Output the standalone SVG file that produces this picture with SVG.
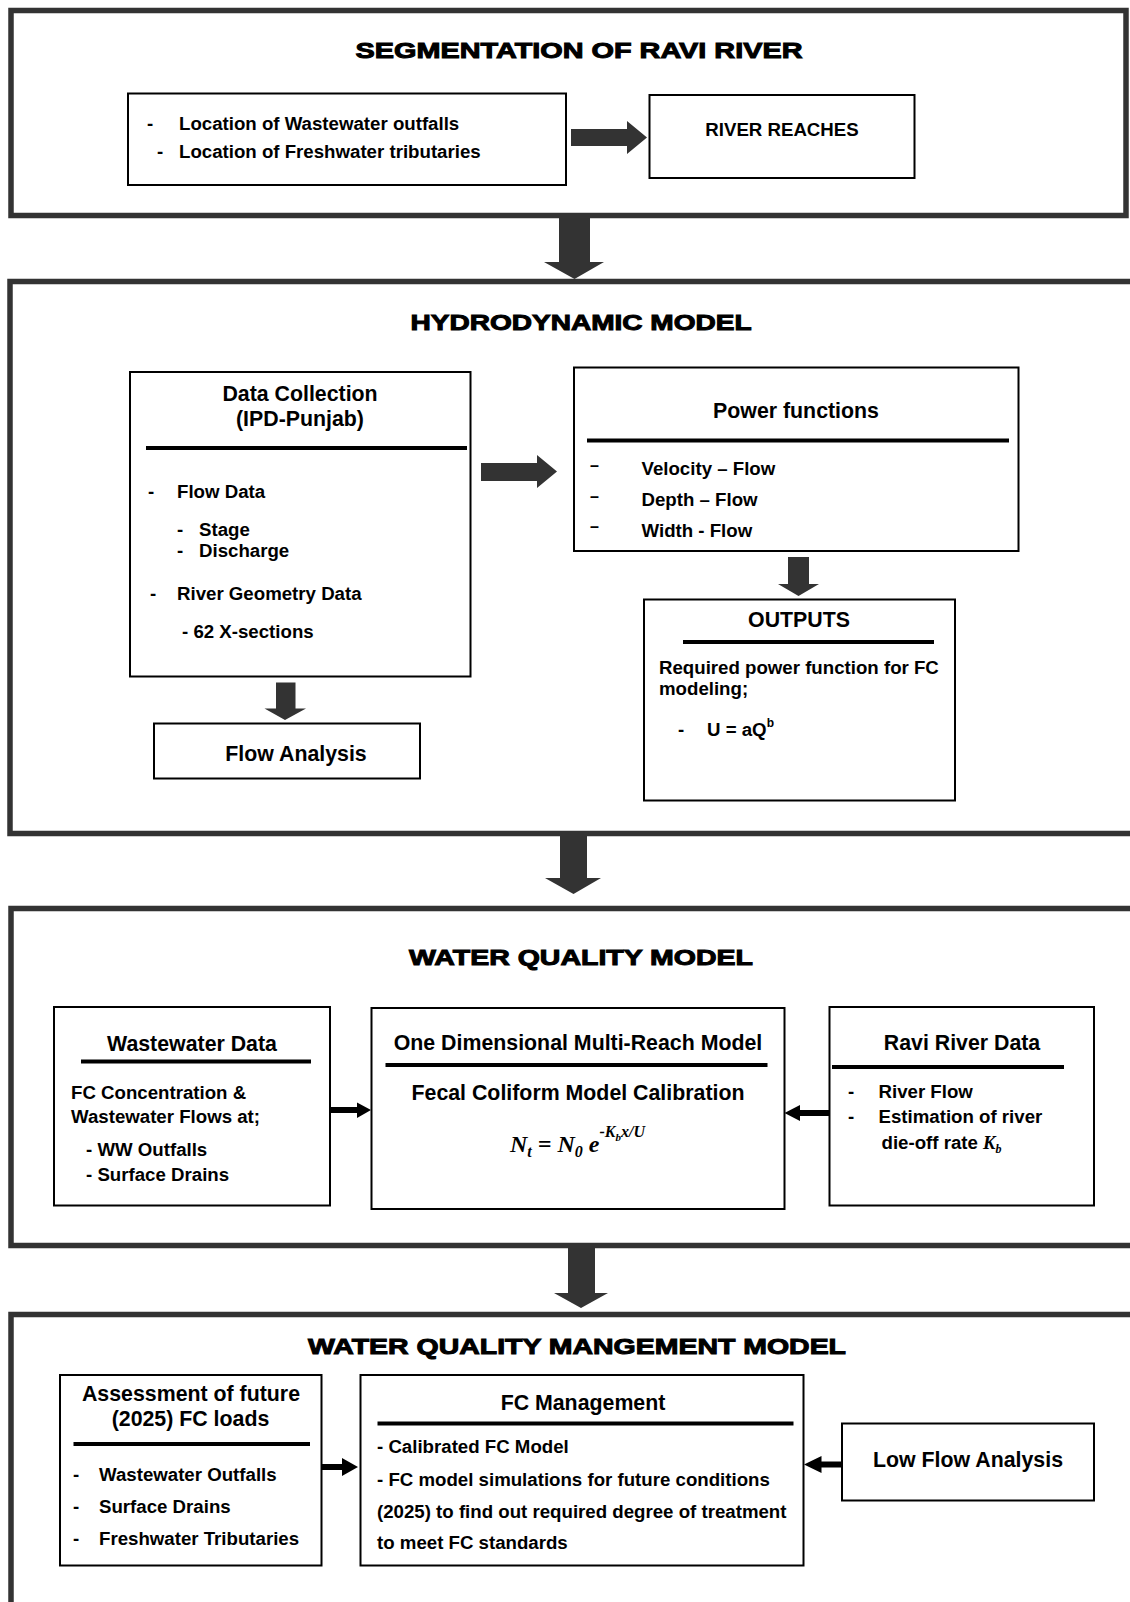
<svg xmlns="http://www.w3.org/2000/svg" width="1130" height="1602" viewBox="0 0 1130 1602">
<style>
.frame{fill:#fff;stroke:#333;stroke-width:5.5}
.box{fill:#fff;stroke:#000;stroke-width:2}
.rule{stroke:#000;stroke-width:4}
.ag{fill:#333}
.ak{fill:#000}
text{font-family:"Liberation Sans",Arial,sans-serif;font-weight:bold;font-size:18.67px;fill:#000}
.h{font-size:21.33px}
.c{text-anchor:middle}
.title{font-size:22.5px;stroke:#000;stroke-width:1}
.f{font-family:"Liberation Serif","Times New Roman",serif;font-style:italic;font-weight:bold}
.fm{font-size:24px}
.s16{font-size:16px}
.s12{font-size:12px}
.s11{font-size:11px}
.dash{font-size:16px}
</style>
<rect width="1130" height="1602" fill="#fff"/>

<g id="segmentation">
<rect class="frame" x="11" y="10.5" width="1115" height="205"/>
<text class="title c" x="579" y="58" textLength="447" lengthAdjust="spacingAndGlyphs">SEGMENTATION OF RAVI RIVER</text>
</g>
<g id="locations">
<rect class="box" x="128" y="93.5" width="438" height="91.5"/>
<text x="147" y="130">-</text>
<text x="179" y="130">Location of Wastewater outfalls</text>
<text x="157" y="158">-</text>
<text x="179" y="158">Location of Freshwater tributaries</text>
</g>
<g id="river-reaches">
<rect class="box" x="649.5" y="95" width="265" height="83"/>
<text class="c" x="782" y="136">RIVER REACHES</text>
</g>

<g id="hydrodynamic">
<rect class="frame" x="10" y="281.5" width="1125" height="552"/>
<text class="title c" x="581" y="330" textLength="341" lengthAdjust="spacingAndGlyphs">HYDRODYNAMIC MODEL</text>
</g>
<g id="data-collection">
<rect class="box" x="130" y="372" width="340.5" height="304.5"/>
<text class="h c" x="300" y="401">Data Collection</text>
<text class="h c" x="300" y="426">(IPD-Punjab)</text>
<line class="rule" x1="146" y1="448" x2="467" y2="448"/>
<text x="148" y="498">-</text>
<text x="177" y="498">Flow Data</text>
<text x="177" y="536">-</text>
<text x="199" y="536">Stage</text>
<text x="177" y="557">-</text>
<text x="199" y="557">Discharge</text>
<text x="150" y="600">-</text>
<text x="177" y="600">River Geometry Data</text>
<text x="182" y="638">- 62 X-sections</text>
</g>
<g id="power-functions">
<rect class="box" x="574" y="367.5" width="444.5" height="183.5"/>
<text class="h c" x="796" y="418">Power functions</text>
<line class="rule" x1="587" y1="440.5" x2="1009" y2="440.5"/>
<text class="dash" x="590" y="471">–</text>
<text x="641.5" y="475">Velocity – Flow</text>
<text class="dash" x="590" y="502">–</text>
<text x="641.5" y="506">Depth – Flow</text>
<text class="dash" x="590" y="532">–</text>
<text x="641.5" y="537">Width - Flow</text>
</g>
<g id="outputs">
<rect class="box" x="644" y="599.5" width="311" height="201"/>
<text class="h c" x="799" y="627">OUTPUTS</text>
<line class="rule" x1="683" y1="642" x2="934" y2="642"/>
<text x="659" y="673.5">Required power function for FC</text>
<text x="659" y="695">modeling;</text>
<text x="678" y="736">-</text>
<text x="707" y="736">U = aQ<tspan class="s12" dy="-9">b</tspan></text>
</g>
<g id="flow-analysis">
<rect class="box" x="154" y="723.5" width="266" height="55"/>
<text class="h c" x="296" y="761">Flow Analysis</text>
</g>

<g id="water-quality">
<rect class="frame" x="11" y="908.5" width="1125" height="337"/>
<text class="title c" x="581" y="965" textLength="344" lengthAdjust="spacingAndGlyphs">WATER QUALITY MODEL</text>
</g>
<g id="wastewater-data">
<rect class="box" x="54" y="1007" width="276" height="198.5"/>
<text class="h c" x="192" y="1051">Wastewater Data</text>
<line class="rule" x1="81" y1="1061.5" x2="311" y2="1061.5"/>
<text x="71" y="1098.5">FC Concentration &amp;</text>
<text x="71" y="1123">Wastewater Flows at;</text>
<text x="86" y="1156">- WW Outfalls</text>
<text x="86" y="1180.5">- Surface Drains</text>
</g>
<g id="multi-reach">
<rect class="box" x="371.5" y="1008" width="413" height="201"/>
<text class="h c" x="578" y="1050">One Dimensional Multi-Reach Model</text>
<line class="rule" x1="385.5" y1="1065" x2="767.5" y2="1065"/>
<text class="h c" x="578" y="1099.5">Fecal Coliform Model Calibration</text>
<text class="f fm" x="510" y="1152">N<tspan class="s16" dy="5">t</tspan><tspan class="fm" dy="-5"> = N</tspan><tspan class="s16" dy="5">0</tspan><tspan class="fm" dy="-5"> e</tspan><tspan class="s16" dy="-15">-K</tspan><tspan class="s11" dy="4">b</tspan><tspan class="s16" dy="-4">x/U</tspan></text>
</g>
<g id="ravi-data">
<rect class="box" x="829.5" y="1007" width="264.5" height="198.5"/>
<text class="h c" x="962" y="1050">Ravi River Data</text>
<line class="rule" x1="832" y1="1067" x2="1064" y2="1067"/>
<text x="848" y="1097.5">-</text>
<text x="878.5" y="1097.5">River Flow</text>
<text x="848" y="1123">-</text>
<text x="878.5" y="1123">Estimation of river</text>
<text x="881.5" y="1148.5">die-off rate <tspan class="f">K</tspan><tspan class="f s12" dy="4">b</tspan></text>
</g>

<g id="management">
<rect class="frame" x="11" y="1314.5" width="1125" height="300"/>
<text class="title c" x="577" y="1354" textLength="538" lengthAdjust="spacingAndGlyphs">WATER QUALITY MANGEMENT MODEL</text>
</g>
<g id="assessment">
<rect class="box" x="60" y="1375" width="261.5" height="190.5"/>
<text class="h c" x="191" y="1401">Assessment of future</text>
<text class="h c" x="190.5" y="1426">(2025) FC loads</text>
<line class="rule" x1="73.5" y1="1444" x2="310" y2="1444"/>
<text x="73" y="1481">-</text>
<text x="99" y="1481">Wastewater Outfalls</text>
<text x="73" y="1512.5">-</text>
<text x="99" y="1512.5">Surface Drains</text>
<text x="73" y="1545">-</text>
<text x="99" y="1545">Freshwater Tributaries</text>
</g>
<g id="fc-management">
<rect class="box" x="360.5" y="1375" width="443" height="190.5"/>
<text class="h c" x="583" y="1410">FC Management</text>
<line class="rule" x1="377.5" y1="1423.5" x2="793.5" y2="1423.5"/>
<text x="377" y="1453">- Calibrated FC Model</text>
<text x="377" y="1486">- FC model simulations for future conditions</text>
<text x="377" y="1517.5">(2025) to find out required degree of treatment</text>
<text x="377" y="1549">to meet FC standards</text>
</g>
<g id="low-flow">
<rect class="box" x="842" y="1423.5" width="252" height="77"/>
<text class="h c" x="968" y="1467">Low Flow Analysis</text>
</g>

<g id="connectors">
<polygon class="ag" points="571,129 627,129 627,121 647,137.5 627,154 627,146 571,146"/>
<polygon class="ag" points="559,217 590,217 590,262 604,262 574.5,279 544,262 559,262"/>
<polygon class="ag" points="481,463 537,463 537,455 557,471.5 537,488 537,481 481,481"/>
<polygon class="ag" points="788,557 809,557 809,584 819,584 798.5,596 778,584 788,584"/>
<polygon class="ag" points="276,682.5 295.5,682.5 295.5,708.5 306,708.5 285,720 264.5,708.5 276,708.5"/>
<polygon class="ag" points="560,836 587,836 587,878 601,878 573.5,894 545,878 560,878"/>
<polygon class="ak" points="331,1107 357,1107 357,1102.5 371,1110 357,1118 357,1113 331,1113"/>
<polygon class="ak" points="829,1110 800,1110 800,1105 784.5,1113 800,1121 800,1116 829,1116"/>
<polygon class="ag" points="568,1248 595,1248 595,1293 608,1293 581,1308 554,1293 568,1293"/>
<polygon class="ak" points="322,1464 342,1464 342,1458 358,1467 342,1476 342,1470 322,1470"/>
<polygon class="ak" points="842,1461.5 821.5,1461.5 821.5,1456 804,1464.5 821.5,1473 821.5,1467.5 842,1467.5"/>
</g>
</svg>
